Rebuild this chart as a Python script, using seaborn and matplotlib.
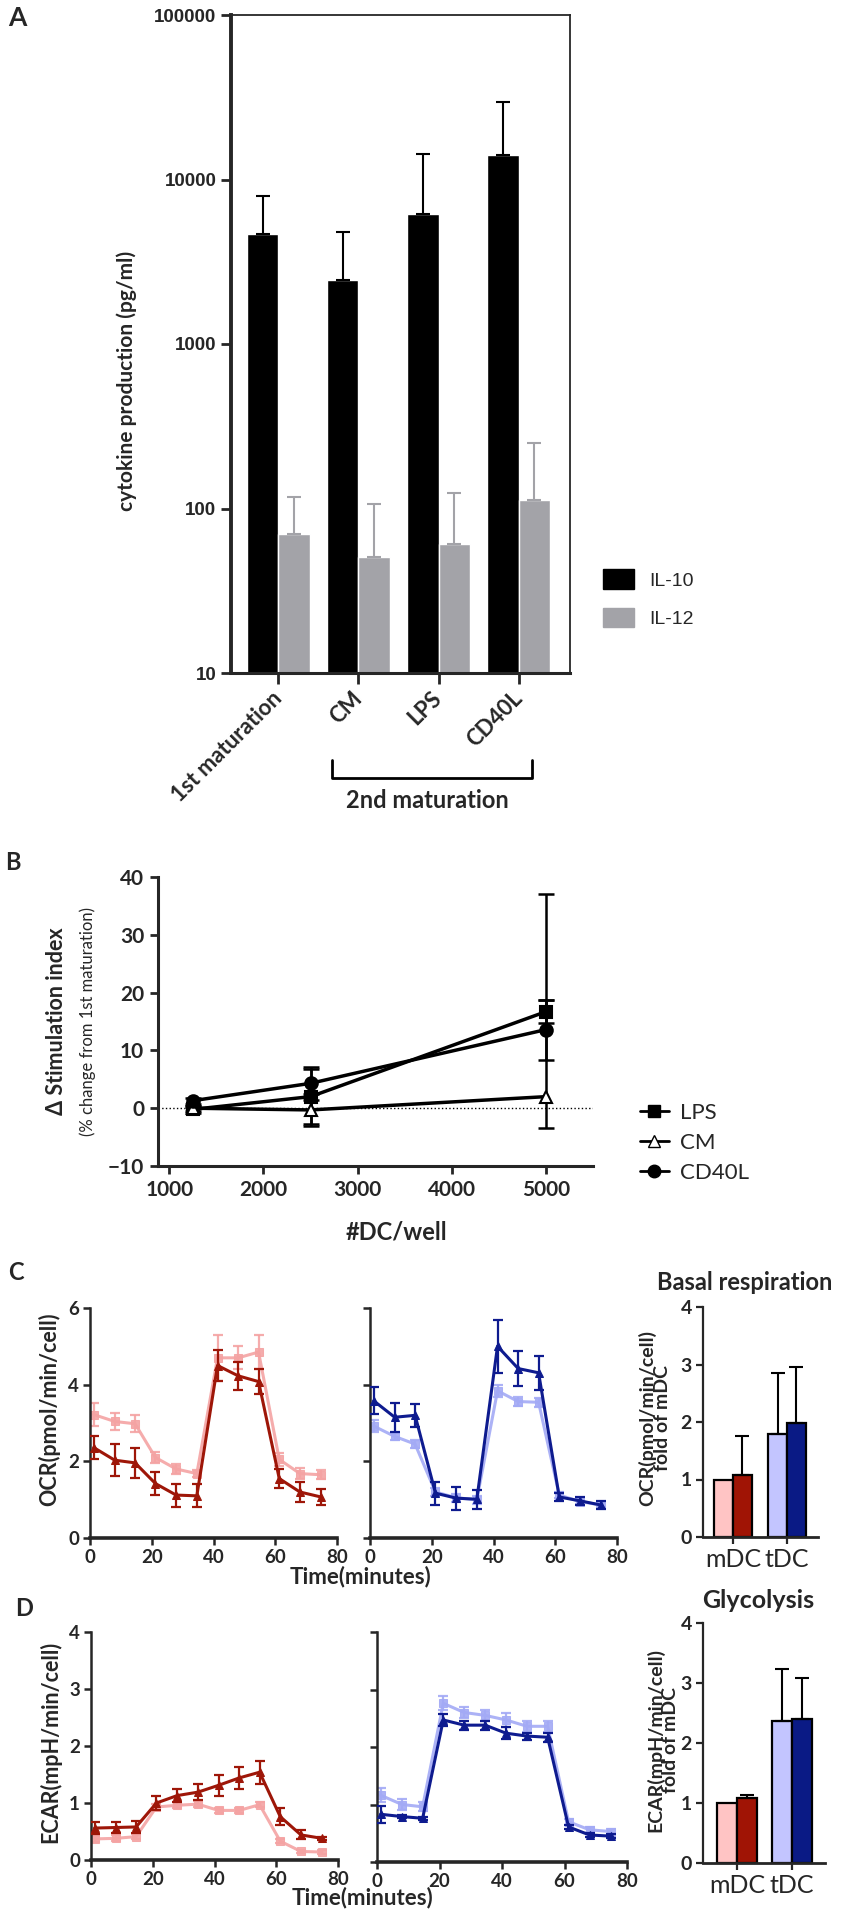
import matplotlib
matplotlib.use('Agg')
import matplotlib.pyplot as plt
from matplotlib.lines import Line2D
from matplotlib.patches import Patch
import numpy as np
import pandas as pd
import seaborn as sns

W, H = 857, 1920

# ---- Panel A: cytokine production ----
a_groups = ['1st maturation', 'CM', 'LPS', 'CD40L']
il10 = [4650, 2450, 6200, 14100]
il10_err = [3250, 2330, 7990, 15600]
il12 = [70, 51, 61, 112]
il12_err = [48, 55, 64, 139]

# ---- Panel B: stimulation index ----
b_cells = [1250, 2500, 5000]
lps = [-0.2, 2.0, 16.7]
lps_lo = [0.6, 4.8, 2.0]
lps_hi = [0.6, 4.8, 2.0]
cm = [0.0, -0.3, 2.0]
cm_lo = [0.4, 2.8, 5.5]
cm_hi = [0.4, 2.8, 35.0]
cd40l = [1.3, 4.3, 13.6]
cd40l_lo = [0.5, 2.8, 5.2]
cd40l_hi = [0.5, 2.8, 5.2]

# ---- Panels C/D: seahorse traces ----
time_min = [1.2, 8.0, 14.6, 21.2, 27.9, 34.6, 41.3, 48.0, 54.6, 61.3, 68.0, 74.8]

ocr_mdc_dark = [2.36, 2.03, 1.96, 1.42, 1.12, 1.10, 4.50, 4.23, 4.08, 1.55, 1.20, 1.07]
ocr_mdc_dark_err = [0.30, 0.42, 0.40, 0.30, 0.30, 0.30, 0.40, 0.36, 0.33, 0.25, 0.25, 0.22]
ocr_mdc_light = [3.22, 3.04, 2.98, 2.10, 1.80, 1.68, 4.70, 4.70, 4.85, 2.05, 1.68, 1.65]
ocr_mdc_light_err = [0.30, 0.22, 0.22, 0.15, 0.12, 0.10, 0.60, 0.30, 0.45, 0.18, 0.15, 0.12]
ocr_tdc_dark = [3.58, 3.15, 3.20, 1.17, 1.04, 1.01, 5.00, 4.42, 4.31, 1.07, 0.97, 0.86]
ocr_tdc_dark_err = [0.35, 0.38, 0.30, 0.30, 0.30, 0.25, 0.70, 0.45, 0.45, 0.10, 0.10, 0.10]
ocr_tdc_light = [2.92, 2.65, 2.45, 1.20, 1.05, 1.00, 3.84, 3.56, 3.54, 1.12, 0.95, 0.86]
ocr_tdc_light_err = [0.15, 0.10, 0.10, 0.10, 0.10, 0.10, 0.15, 0.12, 0.12, 0.08, 0.06, 0.06]

ecar_mdc_dark = [0.56, 0.57, 0.58, 1.00, 1.13, 1.19, 1.31, 1.44, 1.54, 0.76, 0.44, 0.38]
ecar_mdc_dark_err = [0.10, 0.10, 0.10, 0.12, 0.12, 0.14, 0.18, 0.20, 0.20, 0.15, 0.08, 0.03]
ecar_mdc_light = [0.37, 0.38, 0.41, 0.93, 0.96, 0.98, 0.87, 0.87, 0.97, 0.33, 0.15, 0.14]
ecar_mdc_light_err = [0.05, 0.05, 0.05, 0.05, 0.05, 0.05, 0.04, 0.04, 0.04, 0.04, 0.03, 0.03]
ecar_tdc_dark = [0.83, 0.79, 0.76, 2.47, 2.38, 2.38, 2.24, 2.19, 2.17, 0.61, 0.47, 0.45]
ecar_tdc_dark_err = [0.15, 0.03, 0.03, 0.10, 0.08, 0.08, 0.10, 0.06, 0.08, 0.03, 0.03, 0.03]
ecar_tdc_light = [1.16, 1.00, 0.96, 2.76, 2.60, 2.55, 2.47, 2.36, 2.36, 0.70, 0.56, 0.53]
ecar_tdc_light_err = [0.12, 0.10, 0.08, 0.12, 0.10, 0.10, 0.12, 0.10, 0.10, 0.05, 0.05, 0.05]

# ---- fold-of-mDC bars ----
fold_cells = ['mDC', 'mDC', 'tDC', 'tDC']
fold_shade = ['light', 'dark', 'light', 'dark']
ocr_fold = [1.0, 1.08, 1.80, 1.98]
ocr_fold_err = [0.0, 0.67, 1.06, 0.97]
ecar_fold = [1.0, 1.08, 2.36, 2.40]
ecar_fold_err = [0.0, 0.06, 0.87, 0.68]

# colours
DARK_RED = '#9E1608'
PINK_LINE = '#F4A3A3'
PINK_BAR = '#FFC4C4'
NAVY = '#0E1B8F'
LBLUE_LINE = '#A3AAF5'
LBLUE_BAR = '#C3C5FF'
GRAY = '#A3A3A8'

sns.set_style('ticks')
plt.rcParams['font.family'] = ['Lato', 'DejaVu Sans']
plt.rcParams['axes.linewidth'] = 1.5

fig = plt.figure(figsize=(W / 100, H / 100), dpi=100)


def add_ax(x0, y0, x1, y1):
    # axes from pixel box (top-left origin)
    return fig.add_axes([x0 / W, 1 - y1 / H, (x1 - x0) / W, (y1 - y0) / H])


def ftext(x, y, s, **kw):
    fig.text(x / W, 1 - y / H, s, **kw)


def bold_ticks(ax, size, family=None):
    for lab in ax.get_xticklabels() + ax.get_yticklabels():
        lab.set_fontweight('bold')
        lab.set_fontsize(size)
        if family:
            lab.set_family(family)


# ================= Panel A =================
axA = add_ax(231, 15, 570, 673)
df_a = pd.DataFrame({'group': a_groups * 2,
                     'cytokine': ['IL-10'] * 4 + ['IL-12'] * 4,
                     'value': il10 + il12})
sns.barplot(data=df_a, x='group', y='value', hue='cytokine',
            palette={'IL-10': 'black', 'IL-12': GRAY}, width=0.78, gap=0,
            saturation=1, errorbar=None, legend=False, ax=axA)
axA.set_yscale('log')
xa = np.arange(len(a_groups))
axA.errorbar(xa - 0.195, il10, yerr=[np.zeros(4), il10_err], fmt='none',
             ecolor='black', elinewidth=1.5, capsize=5, capthick=1.5)
axA.errorbar(xa + 0.195, il12, yerr=[np.zeros(4), il12_err], fmt='none',
             ecolor=GRAY, elinewidth=1.5, capsize=5, capthick=1.5)
axA.set_ylim(10, 100000)
axA.set_xlim(-0.59, 3.64)
axA.set_yticks([10, 100, 1000, 10000, 100000])
axA.set_yticklabels(['10', '100', '1000', '10000', '100000'])
axA.yaxis.set_minor_locator(matplotlib.ticker.NullLocator())
axA.set_xticks(xa)
axA.set_xticklabels(a_groups, rotation=45, ha='right', va='center',
                    rotation_mode='anchor', fontsize=16, fontweight='bold')
axA.tick_params(axis='x', length=8, width=2, pad=8)
axA.tick_params(axis='y', length=7, width=2, labelsize=13.5)
for lab in axA.get_yticklabels():
    lab.set_family('Liberation Sans')
    lab.set_fontweight('bold')
axA.set_xlabel('')
axA.set_ylabel('')
axA.spines['left'].set_linewidth(2.8)
axA.spines['bottom'].set_linewidth(2.2)
axA.spines['top'].set_linewidth(1.3)
axA.spines['right'].set_linewidth(1.3)

ftext(17, 18, 'A', fontsize=19, fontweight='bold', ha='center', va='center')
ftext(127, 381, 'cytokine production (pg/ml)', rotation=90, fontsize=15,
      fontweight='bold', ha='center', va='center')
# bracket for 2nd maturation
fig.add_artist(Line2D([332 / W, 332 / W, 532 / W, 532 / W],
                      [1 - 760 / H, 1 - 778 / H, 1 - 778 / H, 1 - 760 / H],
                      color='black', lw=2))
ftext(427, 800, '2nd maturation', fontsize=17, fontweight='bold',
      ha='center', va='center')
fig.legend(handles=[Patch(color='black'), Patch(color=GRAY)],
           labels=['IL-10', 'IL-12'], loc='upper left',
           bbox_to_anchor=(585 / W, 1 - 552 / H), frameon=False,
           handlelength=1.6, handleheight=1.2, labelspacing=0.9,
           prop={'family': 'Liberation Sans', 'size': 14})

# ================= Panel B =================
axB = add_ax(158, 877, 593, 1166)
axB.axhline(0, color='black', lw=1, ls=':')
series_b = [('LPS', lps, lps_lo, lps_hi, 's', 'black'),
            ('CM', cm, cm_lo, cm_hi, '^', 'white'),
            ('CD40L', cd40l, cd40l_lo, cd40l_hi, 'o', 'black')]
for name, vals, lo, hi, mk, mfc in series_b:
    axB.errorbar(b_cells, vals, yerr=[lo, hi], fmt='none', ecolor='black',
                 elinewidth=1.8, capsize=6, capthick=1.8)
    sns.lineplot(x=b_cells, y=vals, color='black', lw=2.5, marker=mk,
                 markersize=9, markerfacecolor=mfc, markeredgecolor='black',
                 markeredgewidth=1.5, ax=axB)
axB.set_xlim(880, 5500)
axB.set_ylim(-10, 40)
axB.set_xticks([1000, 2000, 3000, 4000, 5000])
axB.set_yticks([-10, 0, 10, 20, 30, 40])
sns.despine(ax=axB)
axB.spines['left'].set_linewidth(2.2)
axB.spines['bottom'].set_linewidth(2.2)
axB.tick_params(length=6, width=2, pad=4)
bold_ticks(axB, 15)
ftext(13, 862, 'B', fontsize=17, fontweight='bold', ha='center', va='center')
ftext(57, 1021, 'Δ Stimulation index', rotation=90, fontsize=15.5,
      fontweight='bold', ha='center', va='center')
ftext(88, 1021, '(% change from 1st maturation)', rotation=90, fontsize=12,
      ha='center', va='center')
ftext(396, 1232, '#DC/well', fontsize=17, fontweight='bold',
      ha='center', va='center')
b_handles = [Line2D([], [], color='black', lw=2, marker='s', markersize=9),
             Line2D([], [], color='black', lw=2, marker='^', markersize=9,
                    markerfacecolor='white'),
             Line2D([], [], color='black', lw=2, marker='o', markersize=9)]
fig.legend(handles=b_handles, labels=['LPS', 'CM', 'CD40L'], loc='upper left',
           bbox_to_anchor=(620 / W, 1 - 1083 / H), frameon=False,
           handlelength=1.3, labelspacing=0.45, handletextpad=0.5,
           prop={'size': 16})


# ================= Panels C/D traces =================
def trace(ax, vals, err, color, mk, lw, ms, alpha=1.0, z=2):
    ax.errorbar(time_min, vals, yerr=err, fmt='none', ecolor=color,
                elinewidth=1.6, capsize=3.5, capthick=1.6, alpha=alpha, zorder=z)
    sns.lineplot(x=time_min, y=vals, color=color, lw=lw, marker=mk,
                 markersize=ms, markeredgecolor=color, alpha=alpha, ax=ax,
                 zorder=z)


def style_trace_ax(ax, ymax, labels=True):
    ax.set_xlim(0, 80)
    ax.set_ylim(0, ymax)
    ax.set_xticks([0, 20, 40, 60, 80])
    ax.set_yticks(np.arange(0, ymax + 1, 2 if ymax == 6 else 1))
    sns.despine(ax=ax)
    ax.spines['left'].set_linewidth(1.8)
    ax.spines['bottom'].set_linewidth(2.6)
    ax.tick_params(length=5, width=1.8, pad=3)
    if not labels:
        ax.set_yticklabels([])
    bold_ticks(ax, 13.5)


axC1 = add_ax(90, 1308, 337, 1538)
trace(axC1, ocr_mdc_light, ocr_mdc_light_err, PINK_LINE, 's', 2.2, 6, 0.9)
trace(axC1, ocr_mdc_dark, ocr_mdc_dark_err, DARK_RED, '^', 2.2, 6, 1, 3)
style_trace_ax(axC1, 6)

axC2 = add_ax(370, 1308, 617, 1538)
trace(axC2, ocr_tdc_light, ocr_tdc_light_err, LBLUE_LINE, 's', 2.2, 6, 0.9)
trace(axC2, ocr_tdc_dark, ocr_tdc_dark_err, NAVY, '^', 2.2, 6, 1, 3)
style_trace_ax(axC2, 6, labels=False)

axD1 = add_ax(91, 1632, 338, 1860)
trace(axD1, ecar_mdc_light, ecar_mdc_light_err, PINK_LINE, 's', 2.2, 6, 0.9)
trace(axD1, ecar_mdc_dark, ecar_mdc_dark_err, DARK_RED, '^', 2.2, 6, 1, 3)
style_trace_ax(axD1, 4)

axD2 = add_ax(377, 1632, 627, 1862)
trace(axD2, ecar_tdc_light, ecar_tdc_light_err, LBLUE_LINE, 's', 2.2, 6, 0.9)
trace(axD2, ecar_tdc_dark, ecar_tdc_dark_err, NAVY, '^', 2.2, 6, 1, 3)
style_trace_ax(axD2, 4, labels=False)

ftext(16, 1273, 'C', fontsize=17, fontweight='bold', ha='center', va='center')
ftext(24, 1608, 'D', fontsize=17, fontweight='bold', ha='center', va='center')
ftext(49, 1409, 'OCR(pmol/min/cell)', rotation=90, fontsize=15.5,
      fontweight='bold', ha='center', va='center')
ftext(50, 1742, 'ECAR(mpH/min/cell)', rotation=90, fontsize=15.5,
      fontweight='bold', ha='center', va='center')
ftext(361, 1577, 'Time(minutes)', fontsize=16, fontweight='bold',
      ha='center', va='center')
ftext(363, 1898, 'Time(minutes)', fontsize=16, fontweight='bold',
      ha='center', va='center')


# ================= fold-of-mDC bars =================
def fold_bars(ax, vals, errs, width):
    df = pd.DataFrame({'cell': fold_cells, 'shade': fold_shade, 'value': vals})
    sns.barplot(data=df, x='cell', y='value', hue='shade', width=width, gap=0,
                saturation=1, errorbar=None, legend=False,
                edgecolor='black', linewidth=1.6, ax=ax,
                palette={'light': 'white', 'dark': 'white'})
    fills = {'light': [PINK_BAR, LBLUE_BAR], 'dark': ['#A01405', '#0A1A85']}
    for cont, shade in zip(ax.containers, ['light', 'dark']):
        for bar, col in zip(cont, fills[shade]):
            bar.set_facecolor(col)
    half = width / 4
    pos = [0 - half, 0 + half, 1 - half, 1 + half]
    for p, v, e in zip(pos, vals, errs):
        if e > 0:
            ax.errorbar([p], [v], yerr=[[0], [e]], fmt='none', ecolor='black',
                        elinewidth=1.5, capsize=5, capthick=1.5)
    ax.set_ylim(0, 4)
    ax.set_yticks([0, 1, 2, 3, 4])
    ax.set_xlabel('')
    ax.set_ylabel('')
    sns.despine(ax=ax)
    ax.spines['left'].set_linewidth(1.6)
    ax.spines['bottom'].set_linewidth(2.0)
    ax.tick_params(length=5, width=1.6, pad=3)
    for lab in ax.get_yticklabels():
        lab.set_fontweight('bold')
        lab.set_fontsize(14)
    for lab in ax.get_xticklabels():
        lab.set_fontsize(18)


axC3 = add_ax(703, 1307, 818, 1537)
fold_bars(axC3, ocr_fold, ocr_fold_err, 0.7)
axC3.set_xlim(-0.556, 1.574)

axD3 = add_ax(703, 1623, 825, 1863)
fold_bars(axD3, ecar_fold, ecar_fold_err, 0.74)
axD3.set_xlim(-0.62, 1.6)

ftext(745, 1282, 'Basal respiration', fontsize=17, fontweight='bold',
      ha='center', va='center')
ftext(758, 1600, 'Glycolysis', fontsize=18, fontweight='bold',
      ha='center', va='center')
ftext(655, 1418, 'OCR(pmol/min/cell)\nfold of mDC', rotation=90, fontsize=14,
      fontweight='bold', ha='center', va='center', linespacing=0.85)
ftext(663, 1740, 'ECAR(mpH/min/cell)\nfold of mDC', rotation=90, fontsize=14,
      fontweight='bold', ha='center', va='center', linespacing=0.85)

fig.savefig('out.png', dpi=100)
